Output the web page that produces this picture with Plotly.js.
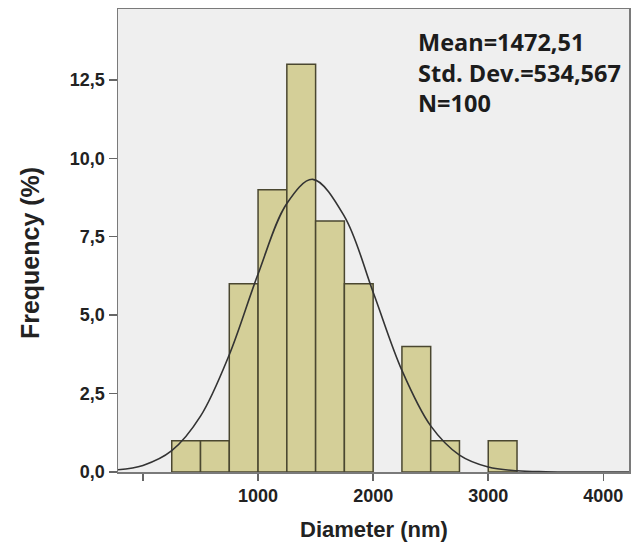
<!DOCTYPE html>
<html>
<head>
<meta charset="utf-8">
<script src="https://cdn.plot.ly/plotly-3.0.1.min.js"></script>
<style>html,body{margin:0;padding:0;background:#fff;}#chart{width:639px;height:544px;}</style>
</head>
<body>
<div id="chart"></div>
<script>
// Histogram bins (left edge, nm) and frequencies (%)
const binStarts = [250, 500, 750, 1000, 1250, 1500, 1750, 2000, 2250, 2500, 2750, 3000];
const frequencies = [1, 1, 6, 9, 13, 8, 6, 0, 4, 1, 0, 1];
const binWidth = 250;

// Fitted normal curve
const curveX = [-217, 0, 250, 500, 750, 1000, 1250, 1475, 1750, 2000, 2250, 2500, 2750, 3000, 3250, 3500, 3750, 4000, 4223];
const curveY = [0.07, 0.21, 0.68, 1.78, 3.74, 6.31, 8.56, 9.33, 8.15, 5.73, 3.24, 1.47, 0.54, 0.16, 0.04, 0.01, 0, 0, 0];

// Axis ticks
const xTickVals = [0, 1000, 2000, 3000, 4000];
const xTickText = ["", "1000", "2000", "3000", "4000"];
const yTickVals = [0, 2.5, 5, 7.5, 10, 12.5];
const yTickText = ["0,0", "2,5", "5,0", "7,5", "10,0", "12,5"];

// Statistics box
const statLines = ["Mean=1472,51", "Std. Dev.=534,567", "N=100"];

const bx = [], by = [];
binStarts.forEach((b, i) => { if (frequencies[i] > 0) { bx.push(b); by.push(frequencies[i]); } });

const traces = [
  {
    type: 'bar', x: bx, y: by, width: binWidth, offset: 0,
    marker: {color: '#d4cf98', line: {color: '#4a4730', width: 1.5}},
    hoverinfo: 'x+y', showlegend: false
  },
  {
    type: 'scatter', mode: 'lines', x: curveX, y: curveY,
    line: {color: '#333333', width: 1.6, shape: 'spline'},
    showlegend: false
  }
];

const tickFont = {family: 'Liberation Sans, Arial, sans-serif', size: 18, color: '#222', weight: 'bold'};

const annotations = [{
  text: statLines.join('<br>'), xref: 'paper', yref: 'paper', x: 0.583, y: 0.8625,
  xanchor: 'left', yanchor: 'middle', align: 'left', showarrow: false,
  font: {family: 'Open Sans, sans-serif', size: 23.5, color: '#1c1c1c', weight: 'bold'}
}];
annotations.push({
  text: 'Frequency (%)', xref: 'paper', yref: 'paper', x: -0.172, y: 0.473,
  xanchor: 'center', yanchor: 'middle', textangle: -90, showarrow: false,
  font: {family: 'Liberation Sans, Arial, sans-serif', size: 25, color: '#222', weight: 'bold'}
});
annotations.push({
  text: 'Diameter (nm)', xref: 'paper', yref: 'paper', x: 0.501, y: -0.124,
  xanchor: 'center', yanchor: 'middle', showarrow: false,
  font: {family: 'Liberation Sans, Arial, sans-serif', size: 22, color: '#222', weight: 'bold'}
});

const layout = {
  width: 639, height: 544,
  margin: {l: 118, r: 10, t: 9, b: 72},
  paper_bgcolor: '#ffffff', plot_bgcolor: '#efefef',
  bargap: 0,
  xaxis: {
    range: [-217, 4223], tickvals: xTickVals, ticktext: xTickText,
    ticks: 'outside', ticklen: 7, tickwidth: 1.5, tickcolor: '#666',
    showline: true, linecolor: '#7a7a7a', linewidth: 1.5, mirror: true,
    showgrid: false, zeroline: false, tickfont: tickFont
  },
  yaxis: {
    range: [0, 14.76], tickvals: yTickVals, ticktext: yTickText,
    ticks: 'outside', ticklen: 8, tickwidth: 1.5, tickcolor: '#666',
    showline: true, linecolor: '#7a7a7a', linewidth: 1.5, mirror: true,
    showgrid: false, zeroline: false, tickfont: tickFont
  },
  annotations: annotations
};

Plotly.newPlot('chart', traces, layout, {displayModeBar: false, staticPlot: true});
</script>
</body>
</html>
